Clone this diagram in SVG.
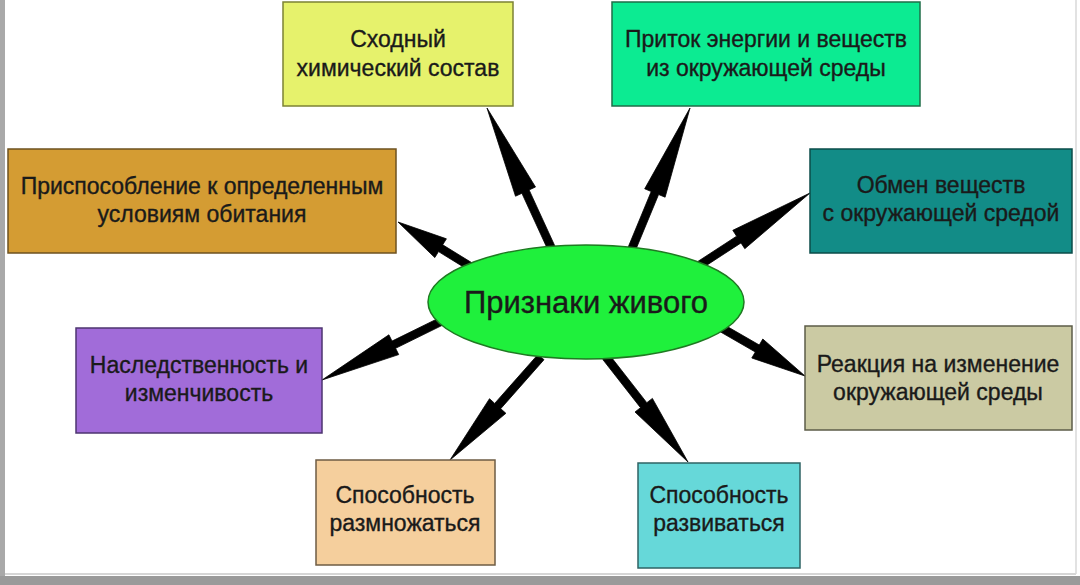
<svg xmlns="http://www.w3.org/2000/svg" width="1080" height="585" viewBox="0 0 1080 585">
<style>
.box{stroke-width:1.5}
.t{font-family:"Liberation Sans",Arial,sans-serif;font-size:23px;fill:#1a1a1a;stroke:#1a1a1a;stroke-width:0.35;text-anchor:middle}
.arrow{fill:#000;stroke:#000;stroke-width:0.8;stroke-linejoin:round}
</style>
<rect width="1080" height="585" fill="#ffffff"/>
<rect x="0" y="0" width="5" height="585" fill="#a9a9a9"/>
<rect x="0" y="576" width="1080" height="9" fill="#9a9a9a"/>
<line x1="5" y1="574" x2="1076" y2="574" stroke="#c8c8c8" stroke-width="1.5"/>
<line x1="1076" y1="0" x2="1076" y2="574" stroke="#d8d8d8" stroke-width="1.5"/>
<g id="connectors">
<polygon class="arrow" points="559.6,256.3 529.1,189.9 535.5,187.0 487,108 515.5,196.2 521.9,193.3 552.4,259.7"/>
<polygon class="arrow" points="631.7,259.5 658.6,194.5 665.1,197.2 690,108 644.7,188.8 651.2,191.5 624.3,256.5"/>
<polygon class="arrow" points="694.2,273.4 741.0,242.9 744.8,248.7 810,193 732.8,230.3 736.6,236.2 689.8,266.7"/>
<polygon class="arrow" points="478.1,266.6 442.7,244.8 446.4,238.8 398,222 434.8,257.6 438.5,251.6 473.9,273.4"/>
<polygon class="arrow" points="444.2,315.4 392.0,341.1 388.9,334.8 322,380 398.7,354.6 395.6,348.3 447.8,322.6"/>
<polygon class="arrow" points="718.0,330.5 755.3,352.0 751.8,358.0 805,376 762.8,339.0 759.3,345.0 722.0,323.5"/>
<polygon class="arrow" points="538.0,354.4 494.7,403.4 489.5,398.7 450,460 505.9,413.3 500.7,408.7 544.0,359.7"/>
<polygon class="arrow" points="602.8,359.5 640.5,407.7 635.0,412.0 688,462 652.4,398.4 646.8,402.7 609.2,354.5"/>
</g>
<g id="center">
<ellipse cx="586" cy="302" rx="158" ry="57" fill="#1ff03c" stroke="#1f7a22" stroke-width="1.5"/>
<text x="586" y="313" class="t" style="font-size:31px">Признаки живого</text>
</g>
<g id="n1">
<rect class="box" x="283" y="2" width="230" height="104" fill="#e6f26c" stroke="#7c8235"/>
<text class="t" x="398" y="47">Сходный</text>
<text class="t" x="398" y="76">химический состав</text>
</g>
<g id="n2">
<rect class="box" x="612" y="2" width="308" height="104" fill="#0ceb92" stroke="#1f6e48"/>
<text class="t" x="766" y="47">Приток энергии и веществ</text>
<text class="t" x="766" y="76">из окружающей среды</text>
</g>
<g id="n3">
<rect class="box" x="8" y="149" width="388" height="104" fill="#d49c33" stroke="#6e5220"/>
<text class="t" x="202" y="194">Приспособление к определенным</text>
<text class="t" x="202" y="222">условиям обитания</text>
</g>
<g id="n4">
<rect class="box" x="810" y="149" width="262" height="104" fill="#128c87" stroke="#0b4c49"/>
<text class="t" x="941" y="193">Обмен веществ</text>
<text class="t" x="941" y="221">с окружающей средой</text>
</g>
<g id="n5">
<rect class="box" x="76" y="328" width="246" height="105" fill="#a16cd9" stroke="#4e3570"/>
<text class="t" x="199" y="373">Наследственность и</text>
<text class="t" x="199" y="401">изменчивость</text>
</g>
<g id="n6">
<rect class="box" x="805" y="326" width="267" height="104" fill="#cbcaa3" stroke="#5c5c48"/>
<text class="t" x="938" y="372">Реакция на изменение</text>
<text class="t" x="938" y="400">окружающей среды</text>
</g>
<g id="n7">
<rect class="box" x="316" y="460" width="179" height="105" fill="#f5cf9d" stroke="#6e5c44"/>
<text class="t" x="405" y="503">Способность</text>
<text class="t" x="405" y="531">размножаться</text>
</g>
<g id="n8">
<rect class="box" x="638" y="463" width="162" height="105" fill="#66d8d9" stroke="#2f6364"/>
<text class="t" x="719" y="503">Способность</text>
<text class="t" x="719" y="531">развиваться</text>
</g>
</svg>
